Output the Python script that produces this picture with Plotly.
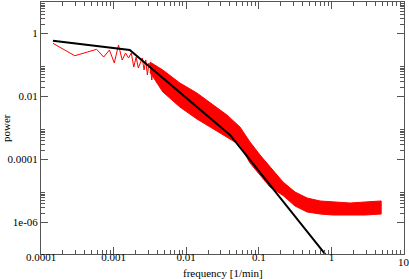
import plotly.graph_objects as go

# --- data ---
low_freq = [1.46e-4, 2.92e-4, 4.38e-4, 5.84e-4, 7.30e-4, 8.76e-4, 1.022e-3, 1.168e-3,
            1.314e-3, 1.46e-3, 1.606e-3, 1.752e-3, 1.898e-3, 2.044e-3, 2.19e-3, 2.336e-3,
            2.482e-3, 2.628e-3, 2.774e-3, 2.92e-3, 3.066e-3, 3.212e-3, 3.358e-3, 3.504e-3]
low_power = [0.489, 0.197, 0.259, 0.315, 0.179, 0.299, 0.116, 0.431,
             0.144, 0.240, 0.167, 0.240, 0.0864, 0.179, 0.0803, 0.124,
             0.167, 0.0694, 0.144, 0.0482, 0.116, 0.0803, 0.0334, 0.0929]

band_freq = [3.16e-3, 4.77e-3, 8.18e-3, 0.01405, 0.02262, 0.0364, 0.055, 0.0756, 0.104,
             0.1427, 0.2157, 0.3157, 0.4623, 0.698, 1.055, 1.811, 2.916, 4.85]
band_upper = [0.1245, 0.0694, 0.0268, 0.0129, 5.78e-3, 2.59e-3, 1.08e-3, 3.60e-4, 1.39e-4,
              5.78e-5, 1.93e-5, 9.29e-6, 6.00e-6, 4.82e-6, 4.48e-6, 4.16e-6, 4.48e-6, 4.82e-6]
band_lower = [0.0600, 0.0139, 4.64e-3, 1.93e-3, 1.0e-3, 5.18e-4, 2.88e-4, 7.74e-5, 3.22e-5,
              1.34e-5, 7.19e-6, 3.34e-6, 2.16e-6, 1.86e-6, 1.73e-6, 1.73e-6, 1.73e-6, 1.86e-6]

fit_freq = [1.46e-4, 1.67e-3, 0.0401, 1.0]
fit_power = [0.59, 0.30, 6.0e-4, 5.6e-8]

x_tick_vals = [1e-4, 1e-3, 1e-2, 1e-1, 1, 10]
x_tick_text = ["0.0001", "0.001", "0.01", "0.1", "1", "10"]
y_tick_vals = [1, 1e-2, 1e-4, 1e-6]
y_tick_text = ["1", "0.01", "0.0001", "1e-06"]

x_minor = [j * 10.0 ** e for e in range(-4, 1) for j in range(2, 10)]
y_minor = [j * 10.0 ** e for e in (-6, -4, -2, 0) for j in range(2, 10)]

RED = "#ff0000"
AX = "#555555"
FONT = "Liberation Serif"
fig = go.Figure()

band_x = band_freq + band_freq[::-1]
band_y = band_upper + band_lower[::-1]
fig.add_trace(go.Scatter(x=band_x, y=band_y, mode="lines", fill="toself",
                         fillcolor=RED, line=dict(color=RED, width=1),
                         hoverinfo="skip", showlegend=False))
fig.add_trace(go.Scatter(x=low_freq, y=low_power, mode="lines",
                         line=dict(color=RED, width=1), showlegend=False))
fig.add_trace(go.Scatter(x=fit_freq, y=fit_power, mode="lines",
                         line=dict(color="black", width=2), showlegend=False))

axis_common = dict(
    type="log", showgrid=False, zeroline=False, automargin=False,
    showline=True, linecolor=AX, linewidth=1, mirror="allticks",
    ticks="inside", ticklen=7, tickwidth=1, tickcolor=AX,
    tickfont=dict(family=FONT, size=11, color="black"),
    tickmode="array",
)

fig.update_layout(
    width=409, height=279,
    margin=dict(l=41, r=5, t=2, b=25, autoexpand=False),
    paper_bgcolor="white", plot_bgcolor="white",
    font=dict(family=FONT, size=11, color="black"),
    xaxis=dict(**axis_common, range=[-4, 1], ticklabelstandoff=-7,
               tickvals=x_tick_vals[:-1], ticktext=x_tick_text[:-1],
               minor=dict(tickmode="array", tickvals=x_minor, ticks="inside",
                          ticklen=4, tickcolor=AX, showgrid=False)),
    yaxis=dict(**axis_common, range=[-7, 1],
               tickvals=y_tick_vals, ticktext=y_tick_text,
               minor=dict(tickmode="array", tickvals=y_minor, ticks="inside",
                          ticklen=4, tickcolor=AX, showgrid=False)),
    annotations=[
        # last x tick label, placed at its tick (plotly hides it at the div edge)
        dict(text=x_tick_text[-1], xref="x", yref="paper", x=1, y=0,
             xanchor="center", yanchor="top", yshift=0, showarrow=False,
             font=dict(family=FONT, size=11, color="black")),
        dict(text="frequency [1/min]", xref="paper", yref="paper", x=0.5, y=0,
             xanchor="center", yanchor="top", yshift=-11, showarrow=False,
             font=dict(family=FONT, size=11, color="black")),
        dict(text="power", xref="paper", yref="paper", x=0, y=0.5,
             xanchor="right", yanchor="middle", xshift=-27, textangle=-90,
             showarrow=False, font=dict(family=FONT, size=11, color="black")),
    ],
)

fig.write_html("out.html", config={"displayModeBar": False},
               post_script="document.body.style.margin='0px';document.body.style.padding='0px';")
